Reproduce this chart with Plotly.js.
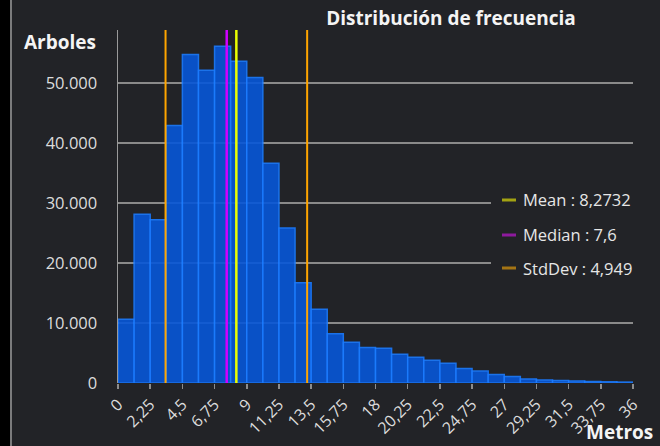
<!DOCTYPE html>
<html>
<head>
<meta charset="utf-8">
<script src="https://cdn.plot.ly/plotly-3.0.1.min.js"></script>
<style>
  html, body { margin: 0; padding: 0; background: #222327; }
  #chart { width: 660px; height: 446px; }
</style>
</head>
<body>
<div id="chart"></div>
<script>
// ---- data ----
const binStarts = [0, 1.125, 2.25, 3.375, 4.5, 5.625, 6.75, 7.875, 9, 10.125, 11.25, 12.375,
  13.5, 14.625, 15.75, 16.875, 18, 19.125, 20.25, 21.375, 22.5, 23.625, 24.75, 25.875,
  27, 28.125, 29.25, 30.375, 31.5, 32.625, 33.75, 34.875];
const binWidth = 1.125;
const counts = [10600, 28100, 27200, 42900, 54700, 52100, 56100, 53600, 50900, 36600, 25800, 16700,
  12300, 8200, 6800, 5900, 5800, 4800, 4300, 3800, 3300, 2400, 2000, 1400,
  1100, 670, 500, 400, 330, 250, 200, 150];
const meanValue = 8.2732;
const medianValue = 7.6;
const stdDevValue = 4.949;
const statNames = ['Mean', 'Median', 'StdDev'];
const statValues = [meanValue, medianValue, stdDevValue];
const xTickVals = [0, 2.25, 4.5, 6.75, 9, 11.25, 13.5, 15.75, 18, 20.25, 22.5, 24.75, 27, 29.25, 31.5, 33.75, 36];
const yTickVals = [0, 10000, 20000, 30000, 40000, 50000];
const yMax = 58800;

const fmt = v => String(v).replace('.', ',');

const bg = '#222327';
const traces = [
  {
    type: 'bar', x: binStarts, y: counts, width: binWidth, offset: 0,
    marker: { color: '#0757d8', opacity: 0.9, line: { color: '#1b7bff', width: 1.5 } },
    showlegend: false, hoverinfo: 'skip'
  },
  { type: 'scatter', mode: 'lines', x: [meanValue - stdDevValue, meanValue - stdDevValue], y: [0, yMax],
    line: { color: '#ffa500', width: 2 }, showlegend: false },
  { type: 'scatter', mode: 'lines', x: [meanValue + stdDevValue, meanValue + stdDevValue], y: [0, yMax],
    line: { color: '#ffa500', width: 2 }, showlegend: false },
  { type: 'scatter', mode: 'lines', x: [medianValue, medianValue], y: [0, yMax],
    line: { color: '#d000ff', width: 2.5 }, showlegend: false },
  { type: 'scatter', mode: 'lines', x: [meanValue, meanValue], y: [0, yMax],
    line: { color: '#eaff00', width: 2.5 }, showlegend: false }
];

const W = 515, L = 118, H = 353, B = 383;
const px = x => (x - L) / W;
const py = y => (B - y) / H;

// custom legend (short line swatches)
const legendColors = ['#a3a313', '#8e1a9e', '#a47414'];
const legendRowsY = [200, 235, 268];
const legendShapes = [
  { type: 'rect', xref: 'paper', yref: 'paper', x0: px(491), x1: px(634), y0: py(284), y1: py(186),
    fillcolor: bg, line: { width: 0 }, layer: 'above' }
];
const legendAnns = [];
statNames.forEach((n, i) => {
  legendShapes.push({ type: 'line', xref: 'paper', yref: 'paper', x0: px(502), x1: px(516),
    y0: py(legendRowsY[i]), y1: py(legendRowsY[i]), line: { color: legendColors[i], width: 3 }, layer: 'above' });
  legendAnns.push({ text: n + ' : ' + fmt(statValues[i]), xref: 'paper', yref: 'paper',
    x: px(521), xanchor: 'left', y: py(legendRowsY[i]), yanchor: 'middle', showarrow: false,
    font: { size: 16.5, color: '#e6e6e6' } });
});

const layout = {
  width: 660, height: 446,
  margin: { l: L, r: 27, t: 30, b: 63 },
  paper_bgcolor: bg, plot_bgcolor: bg,
  font: { family: 'Open Sans, Noto Sans, sans-serif', color: '#e2e2e2', size: 16 },
  separators: ',.',
  bargap: 0,
  showlegend: false,
  title: {
    text: '<b>Distribución de frecuencia</b>',
    font: { size: 19, color: '#f4f4f4' },
    xref: 'paper', x: px(451), xanchor: 'center',
    yref: 'container', y: 1 - 18 / 446, yanchor: 'middle'
  },
  xaxis: {
    range: [0, 36], tickvals: xTickVals, ticktext: xTickVals.map(fmt),
    tickangle: -45, ticks: 'outside', ticklen: 5, tickcolor: '#8c8c8c', tickwidth: 1.5,
    showgrid: false, zeroline: false, showline: false,
    tickfont: { size: 16, color: '#dcdcdc' }
  },
  yaxis: {
    range: [0, yMax], tickvals: yTickVals, ticktext: yTickVals.map(v => v === 0 ? '0' : (v / 1000) + '.000'),
    showgrid: true, gridcolor: '#8a8a8a', gridwidth: 1.5,
    zeroline: false, showline: true, linecolor: '#9a9a9a', linewidth: 1.5,
    ticks: '', ticklabelstandoff: 16,
    tickfont: { size: 16.5, color: '#dcdcdc' }
  },
  annotations: [
    { text: '<b>Arboles</b>', xref: 'paper', yref: 'paper', x: px(98), xanchor: 'right',
      y: py(42), yanchor: 'middle', showarrow: false, font: { size: 19, color: '#f4f4f4' } },
    { text: '<b>Metros</b>', xref: 'paper', yref: 'paper', x: px(654), xanchor: 'right',
      y: py(446), yanchor: 'bottom', showarrow: false, borderpad: 0, font: { size: 19, color: '#f4f4f4' } }
  ].concat(legendAnns),
  shapes: [
    { type: 'rect', xref: 'paper', yref: 'paper', x0: -L / W, x1: px(10), y0: -63 / H, y1: 416 / H,
      fillcolor: '#000000', line: { width: 0 }, layer: 'above' },
    { type: 'line', xref: 'paper', yref: 'paper', x0: px(11), x1: px(11), y0: -63 / H, y1: 416 / H,
      line: { color: '#9a9a9a', width: 1.5 }, layer: 'above' }
  ].concat(legendShapes)
};

Plotly.newPlot('chart', traces, layout, { displayModeBar: false, staticPlot: true });
</script>
</body>
</html>
